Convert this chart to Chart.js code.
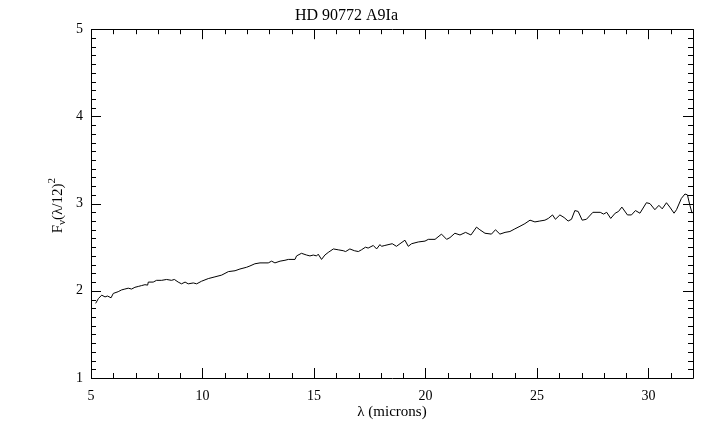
<!DOCTYPE html>
<html>
<head>
<meta charset="utf-8">
<script src="https://cdn.jsdelivr.net/npm/chart.js@4/dist/chart.umd.min.js"></script>
<style>
  html, body { margin: 0; padding: 0; background: #ffffff; }
  canvas { display: block; }
</style>
</head>
<body>
<canvas id="c" width="720" height="439"></canvas>
<script>
// ---- data ----
const chartTitle = "HD 90772 A9Ia";
const xAxisTitle = "λ (microns)";
const xTickValues = [5, 10, 15, 20, 25, 30];
const yTickValues = [1, 2, 3, 4, 5];
const wavelength = [
  5.21, 5.33, 5.48, 5.63, 5.74, 5.90, 6.00, 6.22, 6.37, 6.52,
  6.67, 6.82, 6.97, 7.12, 7.27, 7.42, 7.54, 7.57, 7.79, 7.94,
  8.17, 8.39, 8.61, 8.74, 8.91, 9.06, 9.22, 9.36, 9.59, 9.74,
  9.96, 10.26, 10.56, 10.86, 11.01, 11.16, 11.46, 11.68, 11.98, 12.13,
  12.35, 12.58, 12.95, 13.10, 13.25, 13.48, 13.70, 13.85, 14.15, 14.22,
  14.44, 14.67, 14.82, 14.97, 15.12, 15.19, 15.34, 15.49, 15.64, 15.87,
  16.09, 16.31, 16.42, 16.61, 16.81, 16.99, 17.13, 17.31, 17.43, 17.66,
  17.81, 17.96, 18.03, 18.18, 18.51, 18.70, 18.86, 19.08, 19.23, 19.38,
  19.68, 19.98, 20.13, 20.43, 20.72, 20.95, 21.10, 21.32, 21.55, 21.80,
  22.04, 22.29, 22.44, 22.67, 22.96, 23.14, 23.34, 23.57, 23.79, 24.01,
  24.24, 24.46, 24.69, 24.91, 25.13, 25.36, 25.51, 25.70, 25.83, 26.03,
  26.22, 26.40, 26.55, 26.70, 26.85, 27.03, 27.22, 27.51, 27.84, 27.99,
  28.13, 28.31, 28.51, 28.66, 28.81, 29.06, 29.24, 29.42, 29.62, 29.91,
  30.07, 30.29, 30.47, 30.62, 30.81, 30.96, 31.15, 31.26, 31.48, 31.64,
  31.75, 31.86, 31.96
];
const flux = [
  1.856, 1.91, 1.95, 1.93, 1.94, 1.92, 1.97, 1.99, 2.01, 2.02,
  2.03, 2.02, 2.04, 2.05, 2.06, 2.07, 2.065, 2.10, 2.10, 2.12,
  2.12, 2.13, 2.12, 2.13, 2.10, 2.08, 2.10, 2.08, 2.09, 2.08,
  2.11, 2.14, 2.16, 2.18, 2.20, 2.22, 2.23, 2.25, 2.27, 2.285,
  2.31, 2.32, 2.32, 2.34, 2.32, 2.34, 2.35, 2.36, 2.36, 2.40,
  2.43, 2.41, 2.40, 2.41, 2.40, 2.42, 2.36, 2.41, 2.44, 2.48,
  2.47, 2.46, 2.45, 2.48, 2.46, 2.45, 2.47, 2.50, 2.49, 2.52,
  2.48, 2.53, 2.51, 2.52, 2.54, 2.51, 2.54, 2.58, 2.51, 2.54,
  2.56, 2.57, 2.59, 2.59, 2.65, 2.59, 2.61, 2.66, 2.64, 2.67,
  2.64, 2.73, 2.70, 2.66, 2.65, 2.70, 2.65, 2.67, 2.68, 2.71,
  2.74, 2.77, 2.81, 2.79, 2.80, 2.81, 2.83, 2.87, 2.82, 2.87,
  2.84, 2.80, 2.82, 2.92, 2.91, 2.81, 2.82, 2.90, 2.90, 2.88,
  2.90, 2.83, 2.89, 2.91, 2.96, 2.87, 2.87, 2.92, 2.89, 3.01,
  3.00, 2.93, 2.98, 2.94, 3.01, 2.96, 2.89, 2.93, 3.06, 3.11,
  3.10, 2.98, 2.89
];

const points = wavelength.map((w, i) => ({ x: w, y: flux[i] }));
const FONT = "'Liberation Serif', 'DejaVu Serif', serif";

// frame + inward ticks on all four sides, positioned through the chart's scales
const framePlugin = {
  id: 'frame',
  afterDraw(chart) {
    const { ctx, chartArea: a, scales } = chart;
    const xs = scales.x, ys = scales.y;
    ctx.save();
    ctx.strokeStyle = '#000';
    ctx.lineWidth = 1;
    ctx.beginPath();
    ctx.rect(Math.round(a.left) + 0.5, Math.round(a.top) + 0.5,
             Math.round(a.right - a.left), Math.round(a.bottom - a.top));
    ctx.stroke();
    ctx.beginPath();
    for (let v = xs.min; v <= xs.max + 1e-9; v += 1) {
      const px = Math.round(xs.getPixelForValue(v)) + 0.5;
      const len = (Math.abs(v % 5) < 1e-9) ? 10 : 5;
      ctx.moveTo(px, a.bottom); ctx.lineTo(px, a.bottom - len);
      ctx.moveTo(px, a.top); ctx.lineTo(px, a.top + len);
    }
    for (let k = 0; k <= Math.round((ys.max - ys.min) * 10); k++) {
      const v = ys.min + k / 10;
      const py = Math.round(ys.getPixelForValue(v)) + 0.5;
      const len = (k % 10 === 0) ? 10 : 5;
      ctx.moveTo(a.left, py); ctx.lineTo(a.left + len, py);
      ctx.moveTo(a.right, py); ctx.lineTo(a.right - len, py);
    }
    ctx.stroke();

    // y-axis title with subscript nu and superscript 2
    const cx = 57, cy = (a.top + a.bottom) / 2 + 2;
    ctx.translate(cx, cy);
    ctx.rotate(-Math.PI / 2);
    ctx.fillStyle = '#000';
    ctx.textBaseline = 'alphabetic';
    const big = "15px " + FONT, small = "11px " + FONT;
    const parts = [
      { t: 'F', f: big, dy: 0 },
      { t: 'ν', f: small, dy: 3 },
      { t: '(λ/12)', f: big, dy: 0 },
      { t: '2', f: small, dy: -7 }
    ];
    let total = 0;
    parts.forEach(p => { ctx.font = p.f; p.w = ctx.measureText(p.t).width; total += p.w; });
    let x0 = -total / 2;
    parts.forEach(p => { ctx.font = p.f; ctx.fillText(p.t, x0, 5 + p.dy); x0 += p.w; });
    ctx.restore();
  }
};

new Chart(document.getElementById('c'), {
  type: 'line',
  data: {
    datasets: [{
      data: points,
      borderColor: '#000',
      borderWidth: 1,
      pointRadius: 0,
      tension: 0,
      fill: false
    }]
  },
  options: {
    responsive: false,
    animation: false,
    layout: { padding: { left: 0, right: 27, top: 0, bottom: 18 } },
    plugins: {
      legend: { display: false },
      tooltip: { enabled: false },
      title: {
        display: true,
        text: chartTitle,
        color: '#000',
        font: { family: FONT, size: 16, weight: 'normal' },
        padding: { top: 6, bottom: 4 }
      }
    },
    scales: {
      x: {
        type: 'linear',
        min: 5,
        max: 32,
        afterBuildTicks: s => { s.ticks = xTickValues.map(v => ({ value: v })); },
        afterFit: s => { s.height = 43; },
        grid: { display: false, drawTicks: false },
        border: { display: false },
        ticks: {
          color: '#000',
          padding: 10,
          maxRotation: 0,
          font: { family: FONT, size: 14 }
        },
        title: {
          display: true,
          text: xAxisTitle,
          color: '#000',
          padding: { top: 0, bottom: 0 },
          font: { family: FONT, size: 15 }
        }
      },
      y: {
        type: 'linear',
        min: 1,
        max: 5,
        afterBuildTicks: s => { s.ticks = yTickValues.map(v => ({ value: v })); },
        afterFit: s => { s.width = 91; },
        grid: { display: false, drawTicks: false },
        border: { display: false },
        ticks: {
          color: '#000',
          padding: 8,
          font: { family: FONT, size: 14 }
        }
      }
    }
  },
  plugins: [framePlugin]
});
</script>
</body>
</html>
